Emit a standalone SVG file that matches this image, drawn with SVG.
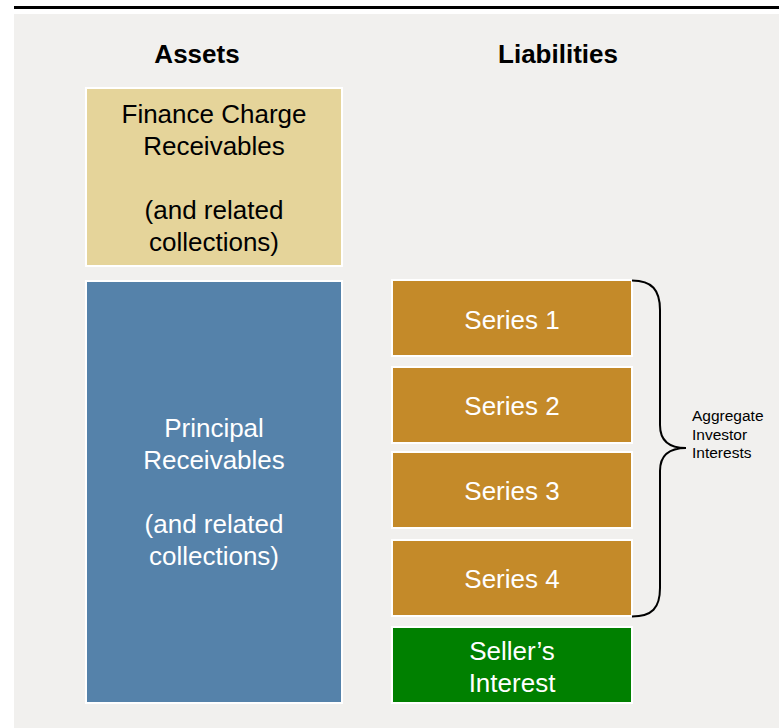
<svg xmlns="http://www.w3.org/2000/svg" width="779" height="728" viewBox="0 0 779 728">
<style>
.t{font-family:"Liberation Sans",Arial,sans-serif;text-anchor:middle}
.h{font-size:26px;font-weight:bold;fill:#000}
.big{font-size:26px}
.w{fill:#fff}
.k{fill:#000}
.box{stroke:#fff;stroke-width:2}
.ser{fill:#C48A29}
.lab{font-family:"Liberation Sans",Arial,sans-serif;font-size:15.5px;fill:#000}
</style>
<rect x="0" y="0" width="779" height="728" fill="#fff"/>
<rect x="14" y="14" width="765" height="714" fill="#F1F0EE"/>
<line x1="14" y1="7.5" x2="779" y2="7.5" stroke="#000" stroke-width="3"/>
<text class="t h" x="197" y="63">Assets</text>
<text class="t h" x="558" y="63">Liabilities</text>
<g id="finance">
<rect class="box" x="86" y="88" width="256" height="178" fill="#E5D49A"/>
<text class="t big k" x="214" y="123">Finance Charge</text>
<text class="t big k" x="214" y="155">Receivables</text>
<text class="t big k" x="214" y="219">(and related</text>
<text class="t big k" x="214" y="251">collections)</text>
</g>
<g id="principal">
<rect class="box" x="86" y="281" width="256" height="422" fill="#5582AA"/>
<text class="t big w" x="214" y="437">Principal</text>
<text class="t big w" x="214" y="469">Receivables</text>
<text class="t big w" x="214" y="533">(and related</text>
<text class="t big w" x="214" y="565">collections)</text>
</g>
<g id="series1">
<rect class="box ser" x="392" y="280" width="240" height="76"/>
<text class="t big w" x="512" y="329">Series 1</text>
</g>
<g id="series2">
<rect class="box ser" x="392" y="367" width="240" height="76"/>
<text class="t big w" x="512" y="415">Series 2</text>
</g>
<g id="series3">
<rect class="box ser" x="392" y="452" width="240" height="76"/>
<text class="t big w" x="512" y="500">Series 3</text>
</g>
<g id="series4">
<rect class="box ser" x="392" y="540" width="240" height="76"/>
<text class="t big w" x="512" y="588">Series 4</text>
</g>
<g id="seller">
<rect class="box" x="392" y="627" width="240" height="76" fill="#008000"/>
<text class="t big w" x="512" y="660">Seller’s</text>
<text class="t big w" x="512" y="692">Interest</text>
</g>
<g id="connectors">
<path d="M632,280.5 C652,280.5 660,290 660,310 L660,425 C660,440 668,448 686,448 C668,448 660,456 660,471 L660,588 C660,608 652,616.5 632,616.5" fill="none" stroke="#000" stroke-width="2"/>
</g>
<g id="aggregate">
<text class="lab" x="692" y="421">Aggregate</text>
<text class="lab" x="692" y="440">Investor</text>
<text class="lab" x="692" y="458">Interests</text>
</g>
</svg>
